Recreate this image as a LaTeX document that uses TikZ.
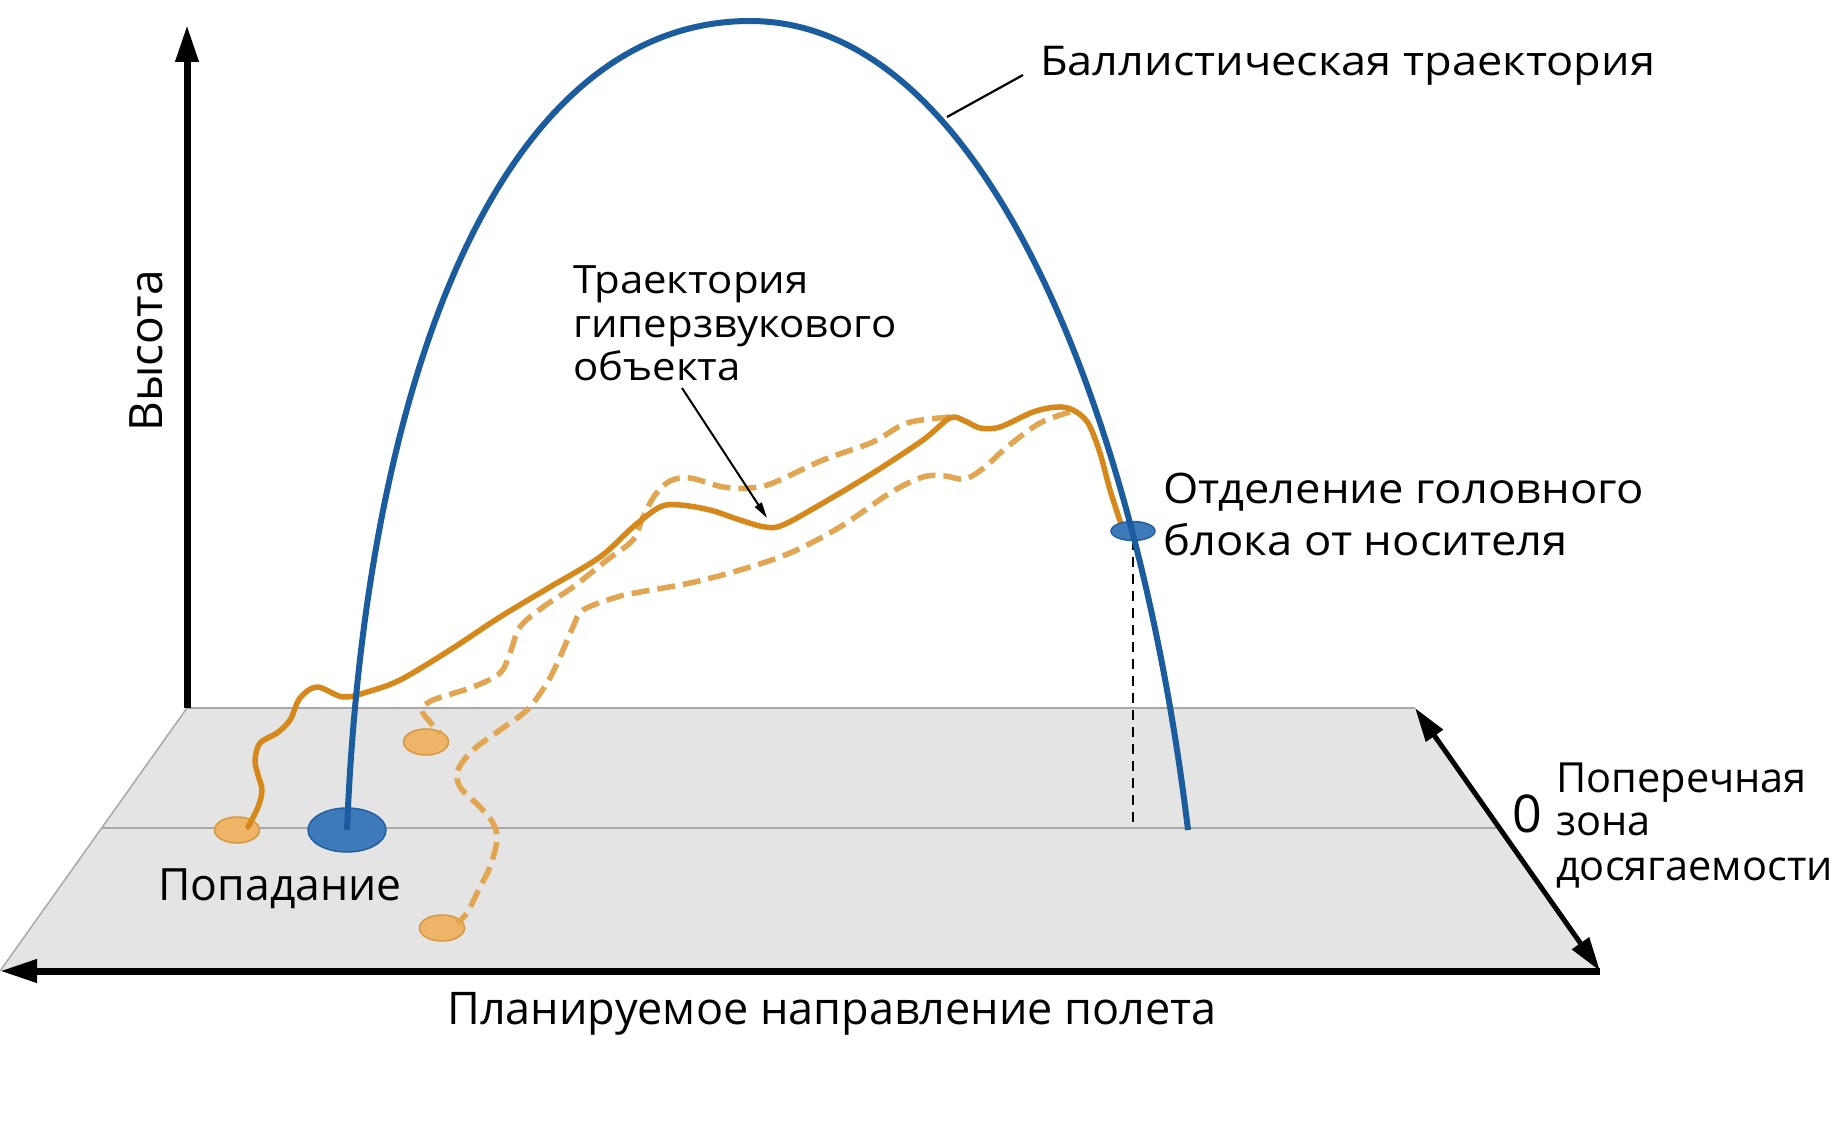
\documentclass[tikz,border=0pt]{standalone}
\usepackage{fontspec}
\setmainfont{Open Sans}
\usetikzlibrary{arrows.meta,shapes.geometric}
\definecolor{bblue}{RGB}{27,92,158}
\definecolor{efill}{RGB}{62,122,186}
\definecolor{eborder}{RGB}{35,95,160}
\definecolor{osolid}{RGB}{214,136,26}
\definecolor{odash}{RGB}{226,166,82}
\definecolor{ofill}{RGB}{238,180,104}
\definecolor{oborder}{RGB}{214,150,64}
\definecolor{planec}{RGB}{228,228,228}
\definecolor{pedge}{RGB}{168,168,168}
\begin{document}
\begin{tikzpicture}[x=1pt,y=-1pt,
  lbl/.style={inner sep=0pt,anchor=base west,text=black},
  axisline/.style={line width=7pt,-{Triangle[length=37pt,width=22pt]}},
  zonearrow/.style={line width=5pt,{Triangle[length=34pt,width=20pt]}-{Triangle[length=34pt,width=20pt]}},
  ballpath/.style={bblue,line width=6pt},
  hsolid/.style={osolid,line width=5.5pt,line cap=round,line join=round},
  hdash/.style={odash,line width=5.5pt,dash pattern=on 18pt off 8pt},
  oblob/.style={ellipse,fill=ofill,draw=oborder,line width=1.5pt,minimum width=45pt,minimum height=26pt,inner sep=0pt},
  bblob/.style={ellipse,fill=efill,draw=eborder,line width=1.5pt,inner sep=0pt},
  leader/.style={black,line width=2.2pt}
]
\useasboundingbox (0,0) rectangle (1834,1126);
% plane
\coordinate (ptl) at (187,708);
\coordinate (ptr) at (1415,708);
\coordinate (pbr) at (1600,971);
\coordinate (pbl) at (0,971);
\coordinate (pml) at (102,828);
\coordinate (pmr) at (1499,828);
\fill[planec] (ptl) -- (ptr) -- (pbr) -- (pbl) -- cycle;
\draw[pedge,line width=2.5pt] (ptl) -- (ptr);
\draw[pedge,line width=1.5pt] (ptl) -- (pbl);
\draw[pedge,line width=2pt] (pml) -- (pmr);
% axes
\coordinate (ytop) at (187,25);
\draw[axisline] (ptl) -- (ytop);
\draw[axisline] (pbr) -- (pbl);
\draw[zonearrow] (ptr) -- (pbr);
% separation dashed drop
\coordinate (dropb) at (1133,828);
\coordinate (dropt) at (1133,540);
\draw[black,line width=2.5pt,dash pattern=on 10pt off 7pt] (dropt) -- (dropb);
% orange impact blobs
\node[oblob] (o1) at (237,830) {};
\node[oblob] (o2) at (426,742) {};
\node[oblob] (o3) at (442,928) {};
% hypersonic trajectories
\draw[hdash] plot[smooth,tension=0.55] coordinates {(950,417) (907,423) (873,442) (823,460) (773,483) (750,488) (723,487) (690,478) (670,481) (655,495) (643,517) (633,540) (607,560) (573,587) (543,607) (520,627) (510,653) (500,673) (473,687) (433,700) (422,710) (430,722) (440,733)};
\draw[hdash] plot[smooth,tension=0.55] coordinates {(1070,412) (1040,423) (1007,447) (985,467) (965,479) (945,476) (923,477) (890,493) (840,527) (790,553) (740,570) (690,583) (640,592) (617,597) (583,610) (573,627) (560,657) (547,683) (527,710) (500,730) (473,750) (458,770) (460,787) (480,807) (493,823) (497,840) (490,867) (480,887) (467,913) (457,923)};
\draw[hsolid] plot[smooth,tension=0.55] coordinates {(1123,530) (1110,490) (1100,453) (1088,423) (1073,410) (1057,407) (1033,412) (1000,427) (980,428) (965,421) (950,418) (923,440) (873,473) (823,503) (783,525) (765,527) (740,520) (710,510) (680,505) (660,507) (633,527) (600,557) (550,587) (500,617) (450,650) (400,680) (367,692) (343,697) (317,687) (300,698) (290,720) (277,733) (260,743) (255,760) (258,775) (262,790) (258,807) (248,827)};
% separation point
\node[bblob,minimum width=44pt,minimum height=19pt] (sep) at (1133,531) {};
% ballistic trajectory
\node[bblob,minimum width=78pt,minimum height=44pt] (hit) at (347,830) {};
\coordinate (apex) at (750,21);
\coordinate (land) at (1188,830);
\draw[ballpath] (hit.center) .. controls (365,380) and (500,21) .. (apex)
  .. controls (990,21) and (1140,430) .. (land);
% labels
\node[lbl,xscale=1.1,font=\fontsize{41}{45}\selectfont] (tball) at (1040,76) {Баллистическая траектория};
\coordinate (ballA) at (947,117);
\coordinate (ballB) at (1023,75);
\draw[leader] (ballA) -- (ballB);
\node[lbl,xscale=1.075,font=\fontsize{39}{43}\selectfont] (th1) at (573,293) {Траектория};
\node[lbl,xscale=1.075,font=\fontsize{39}{43}\selectfont] (th2) at (573,337) {гиперзвукового};
\node[lbl,xscale=1.075,font=\fontsize{39}{43}\selectfont] (th3) at (573,380) {объекта};
\coordinate (hypA) at (682,388);
\coordinate (hypB) at (767,518);
\draw[black,line width=2pt,-{Triangle[length=16pt,width=8pt]}] (hypA) -- (hypB);
\node[lbl,xscale=1.08,font=\fontsize{42}{52}\selectfont] (ts1) at (1163,503) {Отделение головного};
\node[lbl,xscale=1.08,font=\fontsize{42}{52}\selectfont] (ts2) at (1163,555) {блока от носителя};
\node[lbl,font=\fontsize{41.5}{44}\selectfont] (tz1) at (1556,792) {Поперечная};
\node[lbl,font=\fontsize{41.5}{44}\selectfont] (tz2) at (1556,835) {зона};
\node[lbl,font=\fontsize{41.5}{44}\selectfont] (tz3) at (1556,880) {досягаемости};
\node[inner sep=0pt,anchor=base,font=\fontsize{52}{60}\selectfont] (tzero) at (1527,832) {0};
\node[inner sep=0pt,anchor=base,font=\fontsize{44.5}{50}\selectfont] (thit) at (280,900) {Попадание};
\node[inner sep=0pt,anchor=base,font=\fontsize{45}{52}\selectfont] (tplan) at (832,1024) {Планируемое направление полета};
\node[inner sep=0pt,anchor=base,rotate=90,font=\fontsize{46}{52}\selectfont] (theight) at (162,351) {Высота};
\end{tikzpicture}
\end{document}
